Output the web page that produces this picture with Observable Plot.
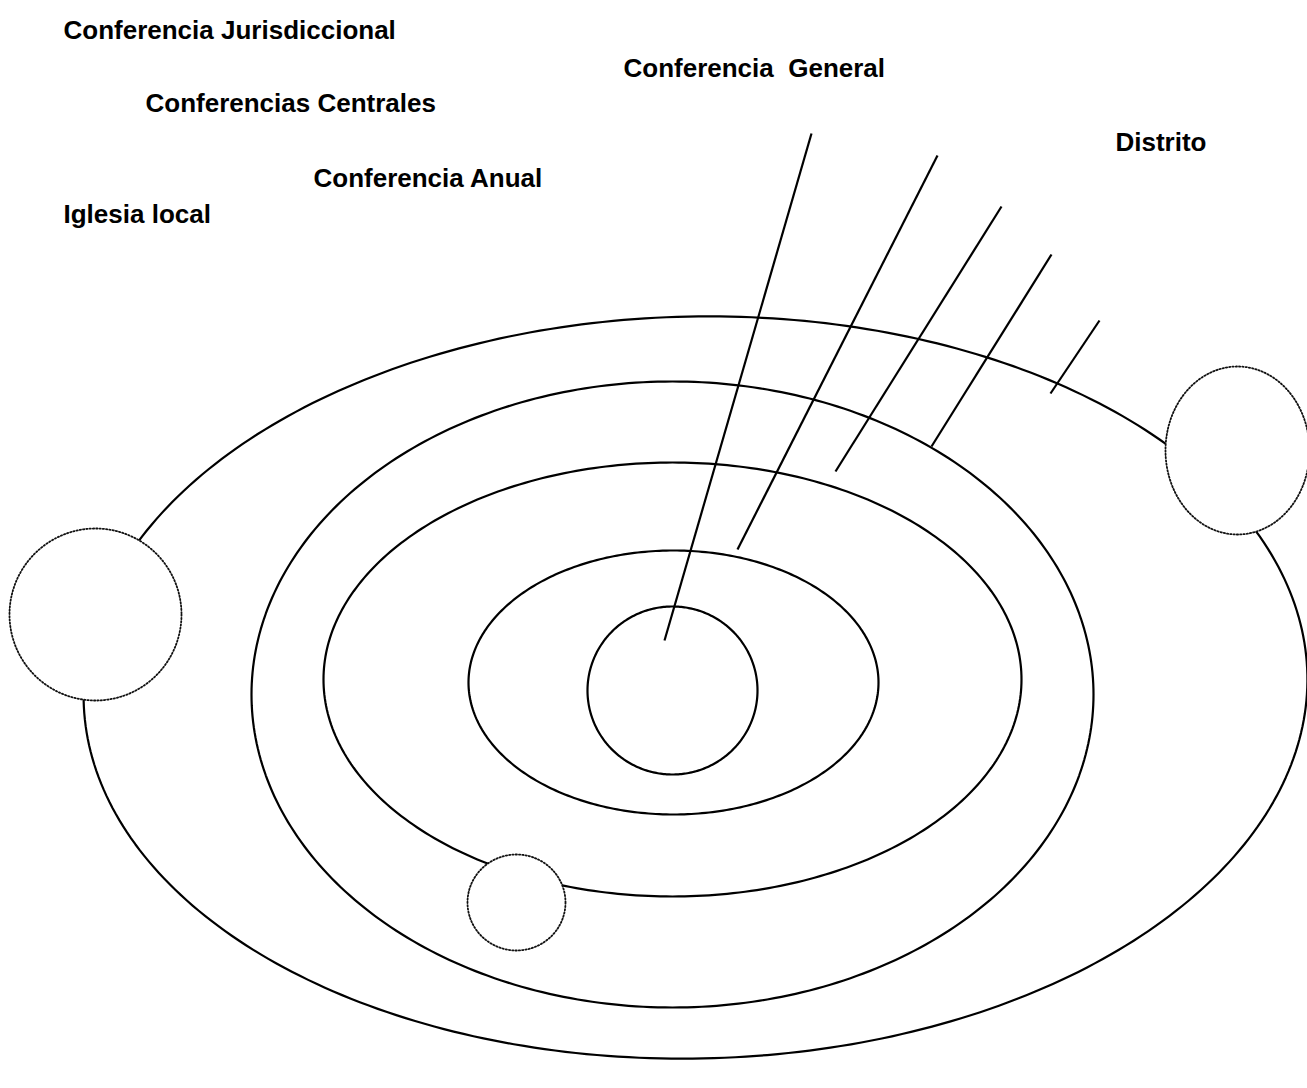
<!DOCTYPE html>
<html>
<head>
<meta charset="utf-8">
<script src="https://cdn.jsdelivr.net/npm/d3@7"></script>
<script src="https://cdn.jsdelivr.net/npm/@observablehq/plot@0.6"></script>
<style>
  html, body { margin: 0; padding: 0; background: #fff; }
  #chart svg { display: block; }
</style>
</head>
<body>
<div id="chart"></div>
<script>
// Concentric rings (outer to inner): centre, radii, tilt (degrees)
const ringNames = ["Exterior", "Segundo", "Tercero", "Cuarto", "Centro"];
const ringCx = [695, 672, 672, 673, 672];
const ringCy = [687, 694, 679, 682, 690];
const ringRx = [612, 421, 349, 205, 85];
const ringRy = [371, 313, 217, 132, 84];
const ringTilt = [-1.2, 0, 0, 0, 0];

// Dotted satellite circles
const satCx = [95, 1237, 516];
const satCy = [614, 450, 902];
const satRx = [86, 72, 49];
const satRy = [86, 84, 48];

// Leader lines (start -> end)
const leadX1 = [811, 937, 1001, 1051, 1099];
const leadY1 = [133, 155, 206, 254, 320];
const leadX2 = [664, 737, 835, 931, 1050];
const leadY2 = [640, 549, 471, 446, 393];

// Labels
const labels = ["Conferencia Jurisdiccional", "Conferencia  General", "Conferencias Centrales", "Distrito", "Conferencia Anual", "Iglesia local"];
const labelX = [63, 623, 145, 1115, 313, 63];
const labelY = [30, 68, 103, 142, 178, 214];

function outline(cx, cy, rx, ry, tilt, id) {
  const a = tilt * Math.PI / 180;
  const pts = [];
  const n = 360;
  for (let i = 0; i <= n; i++) {
    const t = (i / n) * 2 * Math.PI;
    const ex = rx * Math.cos(t), ey = ry * Math.sin(t);
    pts.push({id, x: cx + ex * Math.cos(a) - ey * Math.sin(a), y: cy + ex * Math.sin(a) + ey * Math.cos(a)});
  }
  return pts;
}

const ringPts = ringNames.flatMap((nm, i) => outline(ringCx[i], ringCy[i], ringRx[i], ringRy[i], ringTilt[i], nm));
const satPts = satCx.flatMap((c, i) => outline(c, satCy[i], satRx[i], satRy[i], 0, "s" + i));
const leads = leadX1.map((x, i) => ({x1: x, y1: leadY1[i], x2: leadX2[i], y2: leadY2[i]}));
const labelData = labels.map((t, i) => ({t, x: labelX[i], y: labelY[i]}));

const W = 1307, H = 1088;
const chart = Plot.plot({
  width: W,
  height: H,
  margin: 0,
  x: {domain: [0, W], range: [0, W], axis: null},
  y: {domain: [0, H], range: [0, H], axis: null},
  style: {fontFamily: "'Liberation Sans', Arial, sans-serif", background: "#fff"},
  marks: [
    Plot.line(ringPts, {x: "x", y: "y", z: "id", stroke: "#000", strokeWidth: 2.2, curve: "linear"}),
    Plot.link(leads, {x1: "x1", y1: "y1", x2: "x2", y2: "y2", stroke: "#000", strokeWidth: 2.2}),
    Plot.line(satPts, {x: "x", y: "y", z: "id", fill: "white", stroke: "#111", strokeWidth: 1.8, strokeDasharray: "1.3,2"}),
    Plot.text(labelData, {x: "x", y: "y", text: "t", textAnchor: "start", fontSize: 26, fontWeight: "bold", fill: "#000"})
  ]
});
document.getElementById("chart").appendChild(chart);
</script>
</body>
</html>
